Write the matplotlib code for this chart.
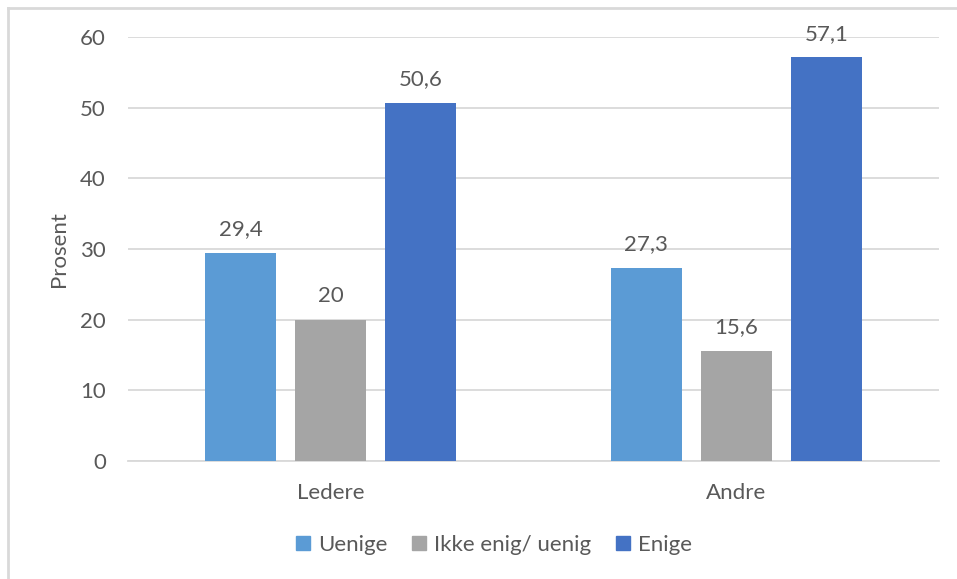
import numpy as np
import matplotlib.pyplot as plt
from matplotlib.lines import Line2D

plt.rcParams['font.family'] = ['Lato', 'DejaVu Sans']

categories = ["Ledere", "Andre"]
series = ["Uenige", "Ikke enig/ uenig", "Enige"]
uenige = [29.4, 27.3]
noytral = [20, 15.6]
enige = [50.6, 57.1]
colors = ["#5B9BD5", "#A5A5A5", "#4472C4"]
text_col = "#595959"

fig = plt.figure(figsize=(9.57, 5.79), dpi=100)
ax = fig.add_axes([128/957, 118/579, 811/957, 424/579])

x = np.arange(len(categories))
w = 0.175
step = 0.222
for i, (vals, name, c) in enumerate(zip([uenige, noytral, enige], series, colors)):
    pos = x + (i - 1) * step
    ax.bar(pos, vals, width=w, color=c, label=name, zorder=3)
    for p, v in zip(pos, vals):
        lab = f"{v:g}".replace(".", ",")
        ax.annotate(lab, (p, v), xytext=(0, 10), textcoords="offset points",
                    ha="center", va="bottom", fontsize=16, color=text_col)

ax.set_xlim(-0.5, 1.5)
ax.set_ylim(0, 60)
ax.set_yticks(range(0, 61, 10))
ax.set_xticks(x)
ax.set_xticklabels(categories)
ax.grid(axis="y", color="#D9D9D9", lw=1.3, zorder=0)
for s in ["top", "right", "left"]:
    ax.spines[s].set_visible(False)
ax.spines["bottom"].set_color("#D9D9D9")
ax.spines["bottom"].set_linewidth(1.3)
ax.tick_params(length=0, labelsize=16, colors=text_col)
ax.tick_params(axis="y", pad=16)
ax.tick_params(axis="x", pad=16)
ax.set_ylabel("Prosent", fontsize=16, color=text_col, labelpad=8)

handles = [Line2D([], [], marker="s", ls="", markersize=10, color=c) for c in colors]
fig.legend(handles, series, loc="center", bbox_to_anchor=(493/957, 1 - 545/579),
           ncol=3, frameon=False, fontsize=16, labelcolor=text_col,
           handlelength=0.8, handletextpad=0.3, columnspacing=1.0)

# thin frame on the left and top edge
fig.add_artist(Line2D([8/957, 8/957], [0, 1 - 8/579], color="#D9D9D9", lw=2))
fig.add_artist(Line2D([8/957, 1], [1 - 8/579, 1 - 8/579], color="#D9D9D9", lw=2))

fig.savefig("out.png", dpi=100)
